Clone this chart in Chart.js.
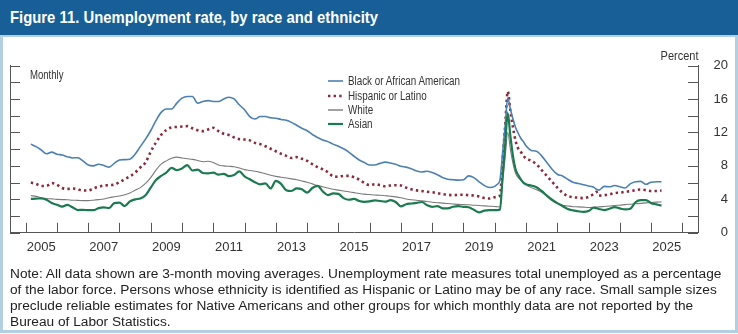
<!DOCTYPE html>
<html><head><meta charset="utf-8">
<script src="https://cdn.jsdelivr.net/npm/chart.js@4.4.1/dist/chart.umd.min.js"></script>
<style>
html,body{margin:0;padding:0;background:#fff;}
#wrap{position:relative;width:738px;height:334px;overflow:hidden;background:#fff;}
#box{position:absolute;left:0;top:35px;width:732px;height:293px;border:3px solid #b3cfe3;border-top:2px solid #b3cfe3;}
#titlebar{position:absolute;left:0;top:0;width:738px;height:35px;background:#175f96;}
#title{position:absolute;left:10px;top:0;height:35px;line-height:35px;color:#fff;font-weight:bold;font-family:"Liberation Sans",Arial,sans-serif;font-size:16.5px;white-space:nowrap;transform-origin:0 50%;}
canvas{position:absolute;left:0;top:0;}
.fit{display:inline-block;white-space:nowrap;}
.lbl{position:absolute;color:#333;font-family:"Liberation Sans",Arial,sans-serif;white-space:nowrap;}
#note{position:absolute;left:10px;top:266px;color:#222;font-family:"Liberation Sans",Arial,sans-serif;font-size:13.5px;line-height:16px;white-space:nowrap;}
.leg{position:absolute;left:328px;height:14px;font-family:"Liberation Sans",Arial,sans-serif;font-size:12.3px;color:#333;white-space:nowrap;}
.leg svg{position:absolute;left:0;top:0;}
.leg span{position:absolute;left:20px;top:0;line-height:14px;transform-origin:0 50%;}
</style></head>
<body><div id="wrap">
<div id="box"></div>
<div id="titlebar"><div id="title">Figure 11. Unemployment rate, by race and ethnicity</div></div>
<canvas id="c" width="738" height="334"></canvas>
<div class="lbl" style="left:30px;top:68px;font-size:12.5px;line-height:15px;"><span class="fit" id="monthly" style="transform-origin:0 50%">Monthly</span></div>
<div class="lbl" style="right:39px;top:48px;font-size:13.5px;line-height:16px;"><span class="fit" id="percent" style="transform-origin:100% 50%">Percent</span></div>
<div id="legend"></div>
<div id="note">
<div id="n1">Note: All data shown are 3-month moving averages. Unemployment rate measures total unemployed as a percentage</div>
<div>of the labor force. Persons whose ethnicity is identified as Hispanic or Latino may be of any race. Small sample sizes</div>
<div>preclude reliable estimates for Native Americans and other groups for which monthly data are not reported by the</div>
<div>Bureau of Labor Statistics.</div>
</div>
</div>
<script>
// ---- data (3-month moving averages, percent) ----
const periods = [
 '2005-03','2005-05','2005-07','2005-09','2005-11',
 '2006-01','2006-03','2006-05','2006-07','2006-09','2006-11',
 '2007-01','2007-03','2007-05','2007-07','2007-09','2007-11',
 '2008-01','2008-03','2008-05','2008-07','2008-09','2008-11',
 '2009-01','2009-03','2009-05','2009-07','2009-09','2009-11',
 '2010-01','2010-03','2010-05','2010-07','2010-09','2010-11',
 '2011-01','2011-03','2011-05','2011-07','2011-09','2011-11',
 '2012-01','2012-03','2012-05','2012-07','2012-09','2012-11',
 '2013-01','2013-03','2013-05','2013-07','2013-09','2013-11',
 '2014-01','2014-03','2014-05','2014-07','2014-09','2014-11',
 '2015-01','2015-03','2015-05','2015-07','2015-09','2015-11',
 '2016-01','2016-03','2016-05','2016-07','2016-09','2016-11',
 '2017-01','2017-03','2017-05','2017-07','2017-09','2017-11',
 '2018-01','2018-03','2018-05','2018-07','2018-09','2018-11',
 '2019-01','2019-03','2019-05','2019-07','2019-09','2019-11',
 '2020-01','2020-02','2020-03','2020-04','2020-05','2020-06','2020-07','2020-08','2020-09','2020-10','2020-11','2020-12',
 '2021-01','2021-03','2021-05','2021-07','2021-09','2021-11',
 '2022-01','2022-03','2022-05','2022-07','2022-09','2022-11',
 '2023-01','2023-03','2023-04','2023-05','2023-07','2023-09','2023-11',
 '2024-01','2024-03','2024-05','2024-07','2024-09','2024-11',
 '2025-01','2025-03','2025-05'
];
const black = [
 10.6,10.3,9.9,9.45,9.65,
 9.4,9.3,9.1,8.95,8.98,8.6,
 8.1,8.0,8.2,8.05,7.85,8.3,
 8.7,8.75,8.8,9.4,10.3,11.2,
 12.2,13.4,14.4,14.8,14.8,15.5,
 16.1,16.3,16.3,15.5,15.7,15.8,
 15.7,15.7,16.0,16.2,16.0,15.3,
 14.7,13.9,13.6,13.9,13.9,13.75,
 13.7,13.55,13.45,13.2,12.85,12.5,
 12.2,11.75,11.4,11.1,10.9,10.6,
 10.35,10.05,9.65,9.15,8.7,8.4,
 8.1,8.1,8.3,8.45,8.35,8.2,
 7.95,7.85,7.65,7.4,7.27,7.35,
 7.2,6.95,6.6,6.4,6.35,6.3,
 6.35,6.8,6.6,6.1,5.65,5.42,
 5.55,5.8,6.3,9.5,12.8,16.1,14.8,13.6,12.6,11.9,11.3,10.9,
 10.4,9.85,9.75,9.2,8.4,7.6,
 7.0,6.8,6.4,6.05,5.9,5.75,
 5.6,5.45,5.2,5.1,5.55,5.5,5.65,
 5.5,5.35,5.85,6.1,6.15,5.8,
 6.05,6.1,6.1
];
const hispanic = [
 6.0,5.85,5.6,5.6,5.95,
 5.75,5.35,5.25,5.3,5.2,5.05,
 5.05,5.3,5.5,5.65,5.7,5.75,
 6.05,6.4,6.75,7.2,7.8,8.4,
 9.7,10.8,11.7,12.3,12.6,12.65,
 12.7,12.75,12.5,12.25,12.15,12.35,
 12.55,12.15,11.85,11.7,11.4,11.2,
 11.15,11.05,10.75,10.6,10.35,10.05,
 9.75,9.45,9.2,8.95,9.05,8.85,
 8.6,8.2,7.85,7.6,7.25,6.75,
 6.7,6.8,6.8,6.65,6.35,5.95,
 5.7,5.8,5.7,5.56,5.65,5.68,
 5.65,5.4,5.2,5.07,5.0,4.9,
 4.85,4.75,4.62,4.55,4.5,4.53,
 4.55,4.5,4.45,4.35,4.15,4.1,
 4.25,4.3,4.45,8.5,12.8,16.9,14.6,12.6,11.0,10.1,9.7,9.2,
 8.9,8.6,8.2,7.5,6.8,6.1,
 5.4,4.8,4.4,4.25,4.2,4.15,
 4.3,4.65,4.9,4.45,4.5,4.6,4.75,
 4.8,4.9,4.97,5.1,5.17,5.1,
 5.0,5.0,5.05
];
const white = [
 4.45,4.35,4.2,4.1,4.05,
 4.0,3.97,3.95,3.9,3.88,3.85,
 3.85,3.9,3.97,4.05,4.2,4.3,
 4.4,4.55,4.75,5.1,5.4,5.9,
 6.6,7.5,8.2,8.6,8.9,9.05,
 8.95,8.85,8.78,8.65,8.5,8.55,
 8.4,8.1,8.0,7.95,7.9,7.75,
 7.55,7.45,7.35,7.22,7.05,6.88,
 6.75,6.65,6.55,6.45,6.35,6.2,
 6.05,5.85,5.65,5.5,5.35,5.2,
 5.1,5.0,4.9,4.8,4.7,4.62,
 4.57,4.52,4.49,4.43,4.37,4.3,
 4.2,4.05,3.95,3.9,3.82,3.75,
 3.65,3.6,3.55,3.5,3.45,3.4,
 3.38,3.35,3.3,3.27,3.22,3.18,
 3.15,3.12,3.1,6.0,9.0,12.0,10.0,8.3,7.1,6.6,6.3,6.0,
 5.75,5.4,5.15,4.85,4.35,3.85,
 3.5,3.3,3.2,3.12,3.1,3.07,
 3.03,3.05,3.08,3.1,3.15,3.2,3.27,
 3.3,3.37,3.42,3.47,3.52,3.58,
 3.63,3.67,3.7
];
const asian = [
 4.05,4.08,4.12,3.95,3.55,
 3.35,3.12,3.35,3.05,2.72,2.75,
 2.7,2.7,2.95,3.05,2.95,3.55,
 3.6,3.2,3.75,4.0,4.1,4.5,
 5.4,6.3,6.8,7.2,7.75,7.5,
 7.7,8.1,7.45,7.55,7.15,7.1,
 7.2,6.95,7.05,6.78,6.9,7.35,
 6.75,6.4,6.05,5.8,5.9,5.3,
 6.2,5.85,5.1,5.0,5.3,5.2,
 4.8,5.35,5.6,4.95,4.5,4.72,
 4.65,4.15,3.95,4.05,3.8,3.7,
 3.75,3.88,3.8,3.72,3.9,3.68,
 3.15,3.42,3.5,3.58,3.68,3.3,
 3.1,3.2,2.92,2.92,3.12,3.2,
 3.1,3.05,2.75,2.45,2.65,2.7,
 2.7,2.72,2.78,6.6,10.5,14.3,11.6,9.2,7.6,6.9,6.4,6.0,
 5.8,5.65,5.45,5.0,4.45,3.95,
 3.55,3.2,2.85,2.68,2.58,2.5,
 2.6,3.0,2.95,2.85,2.72,2.88,3.08,
 2.92,2.8,2.88,3.65,3.9,3.9,
 3.55,3.4,3.25
];
const seriesNames = ['Black or African American','Hispanic or Latino','White','Asian'];
const yearLabels = [2005,2007,2009,2011,2013,2015,2017,2019,2021,2023,2025];
const yearBoundaries = [2005,2006,2007,2008,2009,2010,2011,2012,2013,2014,2015,2016,2017,2018,2019,2020,2021,2022,2023,2024,2025,2026];
const yTickValues = [0,2,4,6,8,10,12,14,16,18,20];

// ---- helpers ----
const toYear = p => { const [y,m] = p.split('-').map(Number); return y + (m-1)/12; };
const pts = arr => arr.map((v,i)=>({x: toYear(periods[i]), y: v}));

const styles = [
  {borderColor:'#4c80b2', borderWidth:1.6, borderDash:[]},
  {borderColor:'#8c2a3c', borderWidth:2.6, borderDash:[2.4,3.2]},
  {borderColor:'#7a7a7a', borderWidth:1.1, borderDash:[]},
  {borderColor:'#1c7a50', borderWidth:2.2, borderDash:[]}
];
const seriesData = [black, hispanic, white, asian];

// legend (HTML)
const legTops = [74, 88.8, 103, 117.3];
const legend = document.getElementById('legend');
const legSpans = [];
seriesNames.forEach((n,i)=>{
  const d = document.createElement('div'); d.className='leg'; d.style.top = legTops[i]+'px';
  const s = styles[i];
  d.innerHTML = `<svg width="16" height="14"><line x1="0" y1="7" x2="15" y2="7" stroke="${s.borderColor}" stroke-width="${Math.max(1.4,s.borderWidth)}" stroke-dasharray="${s.borderDash.join(' ')}"/></svg><span>${n}</span>`;
  legend.appendChild(d);
  legSpans.push(d.querySelector('span'));
});

const axisTicks = {
  id:'axisTicks',
  afterDraw(chart){
    const {ctx, chartArea:a, scales:{x,y}} = chart;
    ctx.save(); ctx.strokeStyle='#555'; ctx.lineWidth=1; ctx.beginPath();
    yTickValues.forEach(v=>{
      const py = Math.round(y.getPixelForValue(v))+0.5;
      ctx.moveTo(a.left,py); ctx.lineTo(a.left+10,py);
      ctx.moveTo(a.right-10,py); ctx.lineTo(a.right,py);
    });
    yearBoundaries.forEach(yr=>{
      const px = Math.round(x.getPixelForValue(yr))+0.5;
      ctx.moveTo(px,a.bottom); ctx.lineTo(px,a.bottom-10);
    });
    ctx.stroke(); ctx.restore();
  }
};

const tickFont = {family:'"Liberation Sans", Arial, sans-serif', size:13};
new Chart(document.getElementById('c'), {
  type:'line',
  data:{ datasets: seriesData.map((arr,i)=>({
    label: seriesNames[i], data: pts(arr),
    borderColor: styles[i].borderColor, borderWidth: styles[i].borderWidth, borderDash: styles[i].borderDash,
    borderCapStyle: 'butt', pointRadius:0, fill:false, cubicInterpolationMode:'monotone', tension:0.3,
    order: i===3 ? 0 : i+1
  }))},
  options:{
    responsive:false, animation:false, devicePixelRatio:1,
    layout:{padding:{left:10, top:65.5, right:10, bottom:76.2}},
    plugins:{legend:{display:false}, tooltip:{enabled:false}},
    scales:{
      x:{type:'linear', min:2004.5, max:2026.5,
         grid:{display:false, drawTicks:false},
         border:{display:true, color:'#555', width:1},
         afterBuildTicks: s => { s.ticks = yearLabels.map(v=>({value:v+0.5})); },
         afterFit: s => { s.height = 25; },
         ticks:{autoSkip:false, maxRotation:0, padding:7, color:'#333', font:tickFont,
                callback: v => String(Math.floor(v))}},
      y:{type:'linear', position:'right', min:0, max:20,
         grid:{display:false, drawTicks:false},
         border:{display:true, color:'#555', width:1},
         afterBuildTicks: s => { s.ticks = yTickValues.map(v=>({value:v})); },
         afterFit: s => { s.width = 30; },
         ticks:{padding:9.5, crossAlign:'far', color:'#333', font:tickFont}},
      yl:{type:'linear', position:'left', min:0, max:20,
         grid:{display:false, drawTicks:false},
         border:{display:true, color:'#555', width:1},
         ticks:{display:false},
         afterFit: s => { s.width = 0; }}
    }
  },
  plugins:[axisTicks]
});

// squeeze text horizontally to the reference widths (condensed typeface look)
function squeeze(el, target){
  el.style.display='inline-block';
  const w = el.getBoundingClientRect().width;
  el.style.transform = 'scaleX(' + (target/w).toFixed(4) + ')';
}
squeeze(document.getElementById('title'), 368);
squeeze(document.getElementById('monthly'), 33.5);
squeeze(document.getElementById('percent'), 38);
squeeze(legSpans[0], 112);
const legK = parseFloat(legSpans[0].style.transform.slice(7));
legSpans.slice(1).forEach(s=>{ s.style.transform='scaleX('+legK+')'; });

const n1 = document.getElementById('n1'); n1.style.display='inline-block';
const nfs = parseFloat(getComputedStyle(n1).fontSize); const nw = n1.getBoundingClientRect().width;
document.getElementById('note').style.fontSize = (nfs*712/nw).toFixed(2)+'px';
n1.style.display='block';
</script>
</body></html>
